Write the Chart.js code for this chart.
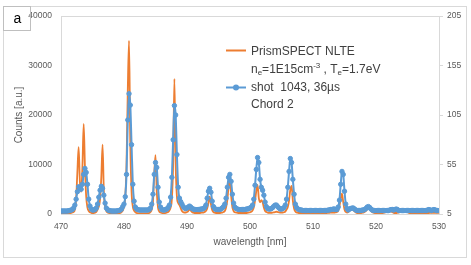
<!DOCTYPE html>
<html>
<head>
<meta charset="utf-8">
<script src="https://cdn.jsdelivr.net/npm/chart.js@4.4.1/dist/chart.umd.min.js"></script>
<style>
  html, body { margin: 0; padding: 0; background: #fff; }
  #wrap { width: 471px; height: 265px; position: relative; }
</style>
</head>
<body>
<div id="wrap"><canvas id="myChart"></canvas></div>
<script>
// wavelength grid of the spectra [nm]
const wlStart = 470;
const wlStep = 0.2;

const xTicks = [470, 480, 490, 500, 510, 520, 530];
const countTicks = [0, 10000, 20000, 30000, 40000];
const rightTicks = [5, 55, 105, 155, 205];

// PrismSPECT NLTE simulation, Counts [a.u.] (left axis), 5 points per nm
const prismValues = [
  100, 100, 100, 100, 100,      // 470
  100, 100, 150, 200, 300,
  400, 900, 3000, 8500, 13500,
  6500, 4500, 9500, 18200, 9500,
  3500, 1300, 600, 350, 250,
  200, 200, 250, 400, 900,      // 475
  1500, 3000, 7500, 14000, 4500,
  1500, 600, 300, 200, 150,
  100, 100, 100, 100, 100,
  100, 150, 200, 400, 700,
  1500, 3500, 10000, 25000, 35000, // 480
  14000, 4500, 1500, 700, 400,
  200, 150, 100, 100, 100,
  100, 100, 100, 100, 150,
  200, 400, 900, 2500, 8000,
  11900, 4500, 1300, 500, 300,  // 485
  200, 150, 150, 200, 300,
  400, 700, 1300, 3000, 10000,
  27300, 10000, 3500, 2200, 1800,
  1200, 600, 350, 300, 300,
  400, 600, 900, 700, 400,      // 490
  250, 200, 200, 200, 200,
  200, 250, 300, 300, 400,
  600, 1100, 2200, 3500, 2000,
  800, 400, 250, 200, 200,
  200, 200, 250, 300, 400,      // 495
  600, 1300, 2800, 5500, 7300,
  3800, 1400, 600, 350, 300,
  250, 200, 200, 200, 200,
  200, 200, 200, 250, 300,
  350, 450, 700, 1300, 2700,    // 500
  4600, 5900, 3200, 2400, 2800,
  2400, 1300, 600, 400, 300,
  250, 250, 250, 300, 350,
  400, 450, 400, 350, 300,
  300, 300, 350, 500, 900,      // 505
  1400, 2700, 4900, 5700, 2700,
  1100, 500, 300, 250, 200,
  200, 200, 200, 200, 200,
  200, 200, 200, 200, 200,
  200, 200, 200, 200, 200,      // 510
  200, 200, 200, 200, 200,
  200, 200, 250, 250, 300,
  300, 300, 300, 350, 400,
  700, 1600, 3100, 4100, 2400,
  900, 400, 300, 400, 700,      // 515
  1000, 1200, 900, 500, 300,
  200, 200, 200, 200, 250,
  300, 400, 600, 1000, 1400,
  1200, 700, 400, 250, 200,
  200, 200, 200, 200, 200,      // 520
  200, 250, 300, 400, 500,
  700, 650, 500, 350, 250,
  200, 200, 250, 300, 400,
  500, 700, 800, 700, 500,
  350, 250, 200, 200, 200,      // 525
  200, 200, 200, 200, 200,
  200, 200, 200, 200, 200,
  200, 200, 200, 250, 250,
  250, 250, 250, 250, 250,
  250                           // 530
];

// shot 1043, 36us, chord 2 (right axis), 5 points per nm
const shotValues = [
  8, 8, 8, 8, 8,                // 470
  8, 8.3, 8.5, 9, 9.5,
  11, 14, 20, 27.5, 32.5,
  31.5, 30, 35, 45, 51,
  47, 35, 20, 13, 10,
  9, 9, 9.5, 11, 15,            // 475
  22, 29, 33, 31, 24,
  16, 11, 9.5, 8.5, 8.3,
  8, 8, 8, 8, 8,
  8.3, 8.5, 9, 10, 12.5,
  15, 22.5, 45, 100, 126.5,     // 480
  115, 75, 35, 18, 12,
  10, 9.5, 9, 9, 9,
  9, 9, 9, 9, 9,
  9.5, 11, 15, 25, 45,
  57, 52, 32, 17, 12,           // 485
  9.5, 9, 9, 9.5, 10,
  11.5, 14, 22, 42, 80,
  114.5, 105, 65, 32, 21,
  17.5, 15, 12.5, 11, 10.5,
  11, 12, 13, 12, 10.5,         // 490
  10, 9.5, 9.5, 9.5, 9.5,
  9.5, 10, 10, 10.5, 11.5,
  14, 21, 28, 31, 27,
  18, 12.5, 10.5, 9.5, 9.5,
  9.5, 9.5, 10, 11, 12.5,       // 495
  15, 21, 32, 42, 45,
  38, 25, 16, 12, 10.5,
  10, 9.5, 9.5, 9.5, 9.5,
  9.5, 9.5, 10, 10, 10.5,
  11, 12, 14, 20, 34,           // 500
  50, 62, 57, 40, 32,
  29, 24, 17, 12.5, 10.5,
  10, 10, 10.5, 11.5, 13,
  14, 14, 12.5, 11, 10,
  10, 10.5, 11.5, 14, 20,       // 505
  32, 48, 61, 57, 40,
  25, 15, 11.5, 10, 9.5,
  9, 9, 8.5, 8.5, 8.5,
  8.5, 8.5, 8.5, 8.5, 8.5,
  8.5, 8.5, 8.5, 8.5, 8.5,      // 510
  8.5, 8.5, 8.5, 8.5, 8.5,
  8.5, 8.5, 9, 9, 9.5,
  9.5, 10, 10, 9.5, 9.5,
  12, 19, 35, 48, 45,
  28, 15, 10.5, 9, 10,          // 515
  10.5, 11, 11, 10, 9,
  8.5, 8.5, 8.5, 8.5, 9,
  9, 9.5, 10.5, 12, 12.5,
  11.5, 10, 9, 8.5, 8.5,
  8.5, 8.5, 8.5, 8.5, 8.5,      // 520
  8.5, 8.5, 8.5, 8.5, 8.5,
  8.5, 9, 9.5, 9.5, 9,
  9.5, 10, 9.5, 8.5, 8.5,
  8.5, 8.5, 8.5, 8.5, 8.5,
  8.5, 8.5, 8.5, 8.5, 8.5,      // 525
  8.5, 8.5, 8.5, 8.5, 8.5,
  8.5, 8.5, 8.5, 8.5, 8.5,
  8.5, 9, 9.5, 9, 8.5,
  9, 9.5, 9, 8.5, 8.5,
  8.5                           // 530
];

const wavelengths = prismValues.map((v, i) => +(wlStart + i * wlStep).toFixed(1));
const prismPoints = prismValues.map((v, i) => ({ x: wavelengths[i], y: v }));
const shotPoints = shotValues.map((v, i) => ({ x: wavelengths[i], y: v }));

const ORANGE = '#ED7D31';
const BLUE = '#5B9BD5';
const TXT = '#595959';
const FONT = "'Liberation Sans', Arial, sans-serif";

// frame, panel label and the legend with sub/superscripts
const decorations = {
  id: 'decorations',
  beforeDraw(chart) {
    const c = chart.ctx;
    c.save();
    c.fillStyle = '#fff';
    c.fillRect(0, 0, chart.width, chart.height);
    c.restore();
  },
  beforeDatasetsDraw(chart) {
    const c = chart.ctx, a = chart.chartArea;
    c.save();
    c.strokeStyle = '#d9d9d9';
    c.lineWidth = 1;
    c.strokeRect(Math.round(a.left) + 0.5, Math.round(a.top) + 0.5,
      Math.round(a.right - a.left), Math.round(a.bottom - a.top));
    c.restore();
  },
  afterDraw(chart) {
    const c = chart.ctx;
    c.save();
    c.strokeStyle = '#d9d9d9';
    c.lineWidth = 1;
    c.strokeRect(3.5, 6.5, 463, 251);
    c.strokeStyle = '#bfbfbf';
    c.strokeRect(3.5, 6.5, 27, 24);
    c.fillStyle = '#000';
    c.font = '14px ' + FONT;
    c.textAlign = 'center';
    c.textBaseline = 'middle';
    c.fillText('a', 17.5, 19);

    // legend
    const lx = 226, tx = 251;
    c.textAlign = 'left';
    c.textBaseline = 'middle';
    c.lineWidth = 2;
    c.strokeStyle = ORANGE;
    c.beginPath(); c.moveTo(lx, 50.5); c.lineTo(lx + 20, 50.5); c.stroke();
    c.strokeStyle = BLUE;
    c.beginPath(); c.moveTo(lx, 87.5); c.lineTo(lx + 20, 87.5); c.stroke();
    c.fillStyle = BLUE;
    c.beginPath(); c.arc(lx + 10, 87.5, 3, 0, Math.PI * 2); c.fill();

    c.fillStyle = '#404040';
    const big = '12px ' + FONT, small = '8px ' + FONT;
    c.font = big;
    c.fillText('PrismSPECT NLTE', tx, 52);
    c.fillText('shot  1043, 36\u00b5s', tx, 88);
    c.fillText('Chord 2', tx, 105);

    // n_e=1E15cm^-3 , T_e=1.7eV
    const parts = [
      ['n', 0, big], ['e', 3, small], ['=1E15cm', 0, big], ['-3', -4, small],
      [' , T', 0, big], ['e', 3, small], ['=1.7eV', 0, big]
    ];
    let x = tx;
    parts.forEach(p => {
      c.font = p[2];
      c.fillText(p[0], x, 70 + p[1]);
      x += c.measureText(p[0]).width;
    });
    c.restore();
  }
};

const ctx = document.getElementById('myChart');

new Chart(ctx, {
  type: 'line',
  data: {
    datasets: [{
      label: 'PrismSPECT NLTE',
      data: prismPoints,
      yAxisID: 'y',
      borderColor: ORANGE,
      backgroundColor: ORANGE,
      borderWidth: 1.8,
      pointRadius: 0,
      cubicInterpolationMode: 'monotone',
      order: 2
    }, {
      label: 'shot  1043, 36\u00b5s',
      data: shotPoints,
      yAxisID: 'y1',
      borderColor: BLUE,
      backgroundColor: BLUE,
      borderWidth: 2,
      pointRadius: 2.2,
      pointBorderWidth: 1,
      pointBorderColor: BLUE,
      pointBackgroundColor: BLUE,
      cubicInterpolationMode: 'monotone',
      order: 1
    }]
  },
  options: {
    responsive: true,
    maintainAspectRatio: false,
    animation: false,
    layout: { padding: { top: 16, left: 0, right: 0, bottom: 0 } },
    plugins: {
      legend: { display: false },
      tooltip: { enabled: false }
    },
    scales: {
      x: {
        type: 'linear',
        min: 470,
        max: 530,
        afterBuildTicks: s => { s.ticks = xTicks.map(v => ({ value: v })); },
        afterFit: s => { s.height = 51; },
        grid: { display: false, drawTicks: false },
        border: { display: false },
        ticks: { color: TXT, font: { family: FONT, size: 8.5 }, padding: 8, maxRotation: 0, callback: v => v },
        title: { display: true, text: 'wavelength [nm]', color: TXT, font: { family: FONT, size: 10 }, padding: { top: 0, bottom: 17 } }
      },
      y: {
        position: 'left',
        min: 0,
        max: 40000,
        afterBuildTicks: s => { s.ticks = countTicks.map(v => ({ value: v })); },
        afterFit: s => { s.width = 61; },
        grid: { display: false, drawTicks: false },
        border: { display: false },
        ticks: { color: TXT, font: { family: FONT, size: 8.5 }, padding: 9, callback: v => v },
        title: { display: true, text: 'Counts [a.u.]', color: TXT, font: { family: FONT, size: 10 }, padding: { top: 13, bottom: 0 } }
      },
      y1: {
        position: 'right',
        min: 5,
        max: 205,
        afterBuildTicks: s => { s.ticks = rightTicks.map(v => ({ value: v })); },
        afterFit: s => { s.width = 32; },
        grid: { drawOnChartArea: false, drawTicks: true, tickLength: 4, color: '#d9d9d9' },
        border: { display: false },
        ticks: { color: TXT, font: { family: FONT, size: 8.5 }, padding: 4, callback: v => v }
      }
    }
  },
  plugins: [decorations]
});
</script>
</body>
</html>
